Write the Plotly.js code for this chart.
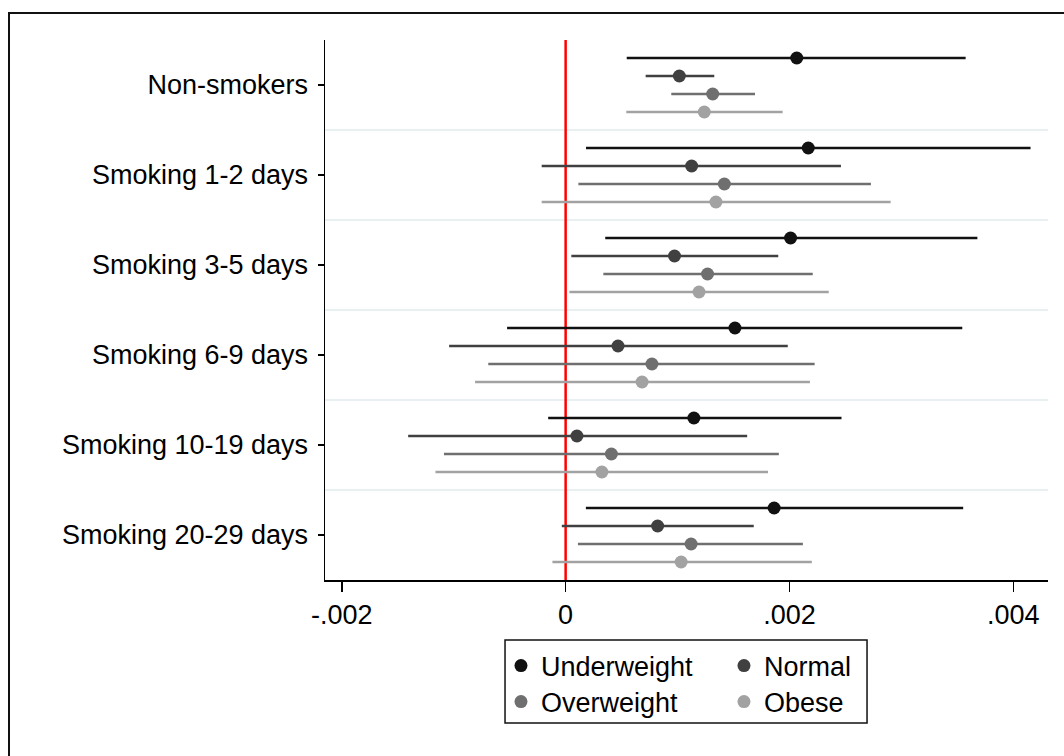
<!DOCTYPE html>
<html>
<head>
<meta charset="utf-8">
<script src="https://cdn.plot.ly/plotly-3.0.1.min.js"></script>
<style>
html, body { margin: 0; padding: 0; background: #fff; overflow: hidden; }
#frame { position: absolute; left: 8px; top: 12px; width: 2000px; height: 2000px; border: 2px solid #111; box-sizing: border-box; }
#chart { position: absolute; left: 0; top: 0; width: 1064px; height: 756px; }
</style>
</head>
<body>
<div id="frame"></div>
<div id="chart"></div>
<script>
// ---- data ----
const categories = ["Non-smokers", "Smoking 1-2 days", "Smoking 3-5 days", "Smoking 6-9 days", "Smoking 10-19 days", "Smoking 20-29 days"];
const seriesNames = ["Underweight", "Normal", "Overweight", "Obese"];

const underweightEst = [0.002065, 0.002168, 0.002010, 0.001513, 0.001146, 0.001863];
const underweightLo  = [0.000546, 0.000182, 0.000354, -0.000523, -0.000156, 0.000181];
const underweightHi  = [0.003574, 0.004154, 0.003679, 0.003544, 0.002465, 0.003552];

const normalEst = [0.001016, 0.001126, 0.000973, 0.000468, 0.000101, 0.000822];
const normalLo  = [0.000715, -0.000214, 0.000051, -0.001041, -0.001407, -0.000034];
const normalHi  = [0.001328, 0.002460, 0.001900, 0.001985, 0.001622, 0.001681];

const overweightEst = [0.001314, 0.001418, 0.001268, 0.000771, 0.000409, 0.001121];
const overweightLo  = [0.000944, 0.000114, 0.000337, -0.000691, -0.001087, 0.000110];
const overweightHi  = [0.001692, 0.002728, 0.002208, 0.002225, 0.001905, 0.002120];

const obeseEst = [0.001239, 0.001343, 0.001192, 0.000683, 0.000324, 0.001032];
const obeseLo  = [0.000542, -0.000214, 0.000034, -0.000809, -0.001163, -0.000118];
const obeseHi  = [0.001939, 0.002904, 0.002351, 0.002183, 0.001808, 0.002200];

const xTickVals = [-0.002, 0, 0.002, 0.004];
const xTickText = ["-.002", "0", ".002", ".004"];

// ---- styling ----
const colors = ["#111111", "#404040", "#6f6f6f", "#a2a2a2"];
const FONT = "Liberation Sans, Arial, sans-serif";
const FS = 27;

const seriesData = [
  [underweightEst, underweightLo, underweightHi],
  [normalEst, normalLo, normalHi],
  [overweightEst, overweightLo, overweightHi],
  [obeseEst, obeseLo, obeseHi]
];

const slot = seriesNames.length + 1; // 5 slots per group
const nG = categories.length;

const traces = seriesData.map(function (sd, s) {
  const est = sd[0], lo = sd[1], hi = sd[2];
  return {
    type: "scatter",
    mode: "markers",
    name: seriesNames[s],
    legend: s < 2 ? "legend" : "legend2",
    x: est,
    y: categories.map(function (c, g) { return g * slot + s + 1; }),
    marker: { color: colors[s], size: 13 },
    error_x: {
      type: "data", symmetric: false,
      array: est.map(function (v, i) { return hi[i] - v; }),
      arrayminus: est.map(function (v, i) { return v - lo[i]; }),
      color: colors[s], thickness: 2.5, width: 0
    },
    hoverinfo: "x+name"
  };
});

const shapes = [];
for (let g = 1; g < nG; g++) {
  shapes.push({ type: "line", xref: "paper", x0: 0, x1: 1, yref: "y", y0: g * slot, y1: g * slot,
    line: { color: "#e8f0f2", width: 2 }, layer: "below" });
}
shapes.push({ type: "line", xref: "x", x0: 0, x1: 0, yref: "paper", y0: 0, y1: 1,
  line: { color: "#ff0000", width: 2.5 }, layer: "below" });
// legend box
shapes.push({ type: "rect", xref: "paper", yref: "paper", x0: 0.249, x1: 0.7497, y0: -0.1111, y1: -0.2648,
  line: { color: "#111111", width: 1.5 }, fillcolor: "rgba(0,0,0,0)" });

const legendCommon = {
  orientation: "h", xanchor: "left", yanchor: "middle",
  entrywidth: 178, entrywidthmode: "pixels",
  font: { family: FONT, size: FS, color: "#000" },
  bgcolor: "rgba(0,0,0,0)", borderwidth: 0
};

const layout = {
  width: 1064, height: 756,
  margin: { l: 325, r: 16, t: 40, b: 176 },
  paper_bgcolor: "rgba(0,0,0,0)",
  plot_bgcolor: "rgba(0,0,0,0)",
  font: { family: FONT, size: FS, color: "#000" },
  showlegend: true,
  legend: Object.assign({}, legendCommon, { x: 0.2434, y: -0.1593 }),
  legend2: Object.assign({}, legendCommon, { x: 0.2434, y: -0.2259 }),
  xaxis: {
    range: [-0.00215, 0.00431],
    tickvals: xTickVals, ticktext: xTickText,
    ticks: "outside", ticklen: 10, tickwidth: 1.5, tickcolor: "#000",
    showline: true, linecolor: "#000", linewidth: 1.5,
    showgrid: false, zeroline: false,
    tickfont: { family: FONT, size: FS, color: "#000" }
  },
  yaxis: {
    range: [nG * slot, 0],
    tickvals: categories.map(function (c, g) { return g * slot + slot / 2; }),
    ticktext: categories,
    ticks: "outside", ticklen: 6, tickwidth: 1.5, tickcolor: "#000",
    ticklabelstandoff: 4,
    showline: true, linecolor: "#000", linewidth: 1.5,
    showgrid: false, zeroline: false,
    tickfont: { family: FONT, size: FS, color: "#000" }
  },
  shapes: shapes
};

Plotly.newPlot("chart", traces, layout, { displayModeBar: false, staticPlot: true });
</script>
</body>
</html>
